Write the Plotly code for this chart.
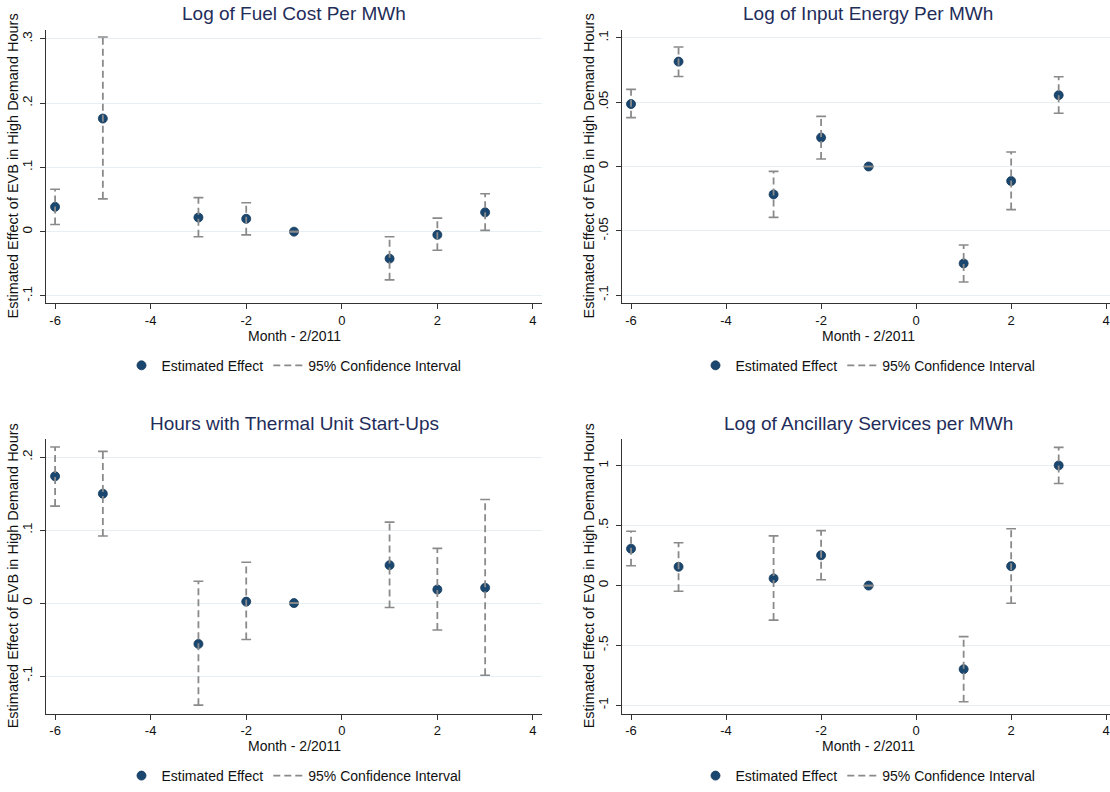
import plotly.graph_objects as go

months = [-6, -5, -3, -2, -1, 1, 2, 3]

# Panel 1: Log of Fuel Cost Per MWh
fuel_est = [0.0386, 0.176, 0.022, 0.020, 0.0, -0.042, -0.005, 0.030]
fuel_lo = [0.011, 0.051, -0.008, -0.005, 0.0, -0.075, -0.029, 0.002]
fuel_hi = [0.066, 0.303, 0.053, 0.045, 0.0, -0.008, 0.021, 0.059]

# Panel 2: Log of Input Energy Per MWh
energy_est = [0.0486, 0.0816, -0.0217, 0.0225, 0.0, -0.0754, -0.0113, 0.0555]
energy_lo = [0.038, 0.070, -0.0396, 0.0059, 0.0, -0.0898, -0.0335, 0.0414]
energy_hi = [0.060, 0.093, -0.0038, 0.039, 0.0, -0.061, 0.0113, 0.0698]

# Panel 3: Hours with Thermal Unit Start-Ups
starts_est = [0.174, 0.150, -0.056, 0.002, 0.0, 0.052, 0.0186, 0.021]
starts_lo = [0.133, 0.092, -0.140, -0.050, 0.0, -0.006, -0.037, -0.099]
starts_hi = [0.214, 0.208, 0.030, 0.056, 0.0, 0.111, 0.075, 0.142]

# Panel 4: Log of Ancillary Services per MWh
anc_est = [0.308, 0.157, 0.060, 0.253, 0.0, -0.698, 0.162, 1.003]
anc_lo = [0.165, -0.047, -0.288, 0.049, 0.0, -0.970, -0.148, 0.852]
anc_hi = [0.453, 0.357, 0.415, 0.459, 0.0, -0.426, 0.475, 1.154]

titles = ["Log of Fuel Cost Per MWh", "Log of Input Energy Per MWh",
          "Hours with Thermal Unit Start-Ups", "Log of Ancillary Services per MWh"]

x_ticks = [-6, -4, -2, 0, 2, 4]
x_ticktext = ["-6", "-4", "-2", "0", "2", "4"]

y_ticks_1 = [-0.1, 0, 0.1, 0.2, 0.3]
y_text_1 = ["-.1", "0", ".1", ".2", ".3"]
y_ticks_2 = [-0.1, -0.05, 0, 0.05, 0.1]
y_text_2 = ["-.1", "-.05", "0", ".05", ".1"]
y_ticks_3 = [-0.1, 0, 0.1, 0.2]
y_text_3 = ["-.1", "0", ".1", ".2"]
y_ticks_4 = [-1, -0.5, 0, 0.5, 1]
y_text_4 = ["-1", "-.5", "0", ".5", "1"]

x_title = "Month - 2/2011"
y_title = "Estimated Effect of EVB in High Demand Hours"
legend_est = "Estimated Effect"
legend_ci = "95% Confidence Interval"

W, H = 1110, 792
FONT = "Liberation Sans, Arial, Helvetica, sans-serif"
NAVY = "#1a476f"
GRAY = "#8a8a8a"
TITLE_C = "#1f2d5a"
AXIS_C = "#333333"
GRID_C = "#e6eff1"

panels = [
    dict(est=fuel_est, lo=fuel_lo, hi=fuel_hi, yt=y_ticks_1, ytt=y_text_1,
         yr=[-0.1115, 0.3142], xd=[46, 542], yd=[30, 306], xr=[-6.19, 4.19]),
    dict(est=energy_est, lo=energy_lo, hi=energy_hi, yt=y_ticks_2, ytt=y_text_2,
         yr=[-0.1064, 0.1064], xd=[622, 1110], yd=[30, 306], xr=[-6.19, 4.08]),
    dict(est=starts_est, lo=starts_lo, hi=starts_hi, yt=y_ticks_3, ytt=y_text_3,
         yr=[-0.1516, 0.2249], xd=[46, 542], yd=[443, 720], xr=[-6.19, 4.19]),
    dict(est=anc_est, lo=anc_lo, hi=anc_hi, yt=y_ticks_4, ytt=y_text_4,
         yr=[-1.069, 1.223], xd=[622, 1110], yd=[443, 720], xr=[-6.19, 4.08]),
]

fig = go.Figure()
annotations = []
layout = {}

for i, p in enumerate(panels):
    k = i + 1
    xa = "x" if k == 1 else f"x{k}"
    ya = "y" if k == 1 else f"y{k}"
    lg = "legend" if k == 1 else f"legend{k}"

    fig.add_trace(go.Scatter(
        x=months, y=p["est"], mode="markers", name=legend_est,
        marker=dict(color=NAVY, size=9, line=dict(color="#14385a", width=0.8)),
        xaxis=xa, yaxis=ya, legend=lg, showlegend=True))

    cx, cy = [], []
    for m, lo, hi in zip(months, p["lo"], p["hi"]):
        cx += [m, m, None]
        cy += [lo, hi, None]
    fig.add_trace(go.Scatter(
        x=cx, y=cy, mode="lines", name=legend_ci,
        line=dict(color=GRAY, width=1.8, dash="7px,4px"),
        xaxis=xa, yaxis=ya, legend=lg, showlegend=True))
    capx, capy = [], []
    for m, lo, hi in zip(months, p["lo"], p["hi"]):
        capx += [m, m]
        capy += [lo, hi]
    fig.add_trace(go.Scatter(
        x=capx, y=capy, mode="markers",
        marker=dict(symbol="line-ew", size=7, line=dict(color=GRAY, width=1.6)),
        xaxis=xa, yaxis=ya, showlegend=False, hoverinfo="skip"))

    xkey = "xaxis" if k == 1 else f"xaxis{k}"
    ykey = "yaxis" if k == 1 else f"yaxis{k}"
    layout[xkey] = dict(
        domain=[p["xd"][0] / W, p["xd"][1] / W], range=p["xr"],
        tickvals=x_ticks, ticktext=x_ticktext, anchor=ya,
        showline=True, linecolor=AXIS_C, linewidth=1.3,
        ticks="outside", ticklen=5, tickcolor=AXIS_C, tickwidth=1.2,
        showgrid=False, zeroline=False,
        tickfont=dict(family=FONT, size=13, color="#111111"))
    layout[ykey] = dict(
        domain=[1 - p["yd"][1] / H, 1 - p["yd"][0] / H], range=p["yr"],
        tickvals=p["yt"], ticktext=p["ytt"], anchor=xa, tickangle=-90,
        showline=True, linecolor=AXIS_C, linewidth=1.3,
        ticks="outside", ticklen=5, tickcolor=AXIS_C, tickwidth=1.2,
        showgrid=True, gridcolor=GRID_C, gridwidth=1, zeroline=False,
        ticklabelstandoff=2,
        tickfont=dict(family=FONT, size=13.5, color="#111111"))

    cx_px = (p["xd"][0] + p["xd"][1]) / 2 if k in (1, 3) else 868
    top = p["yd"][0]
    bot = p["yd"][1]
    annotations.append(dict(
        text=titles[i], x=cx_px / W, y=1 - (top - 16) / H, xref="paper", yref="paper",
        showarrow=False, xanchor="center", yanchor="middle",
        font=dict(family=FONT, size=19, color=TITLE_C)))
    annotations.append(dict(
        text=x_title, x=cx_px / W, y=1 - (bot + 33) / H, xref="paper", yref="paper",
        showarrow=False, xanchor="center", yanchor="middle",
        font=dict(family=FONT, size=14, color="#111111")))
    annotations.append(dict(
        text=y_title, x=(p["xd"][0] - 33) / W, y=1 - ((top + bot) / 2) / H,
        xref="paper", yref="paper", showarrow=False, textangle=-90,
        xanchor="center", yanchor="middle",
        font=dict(family=FONT, size=14.5, color="#111111")))
    layout[lg] = dict(
        orientation="h", x=cx_px / W, y=1 - (bot + 63) / H,
        xanchor="center", yanchor="middle", bgcolor="rgba(0,0,0,0)",
        font=dict(family=FONT, size=14, color="#111111"), itemwidth=30,
        traceorder="normal")

fig.update_layout(
    width=W, height=H, margin=dict(l=0, r=0, t=0, b=0),
    paper_bgcolor="white", plot_bgcolor="white",
    annotations=annotations, **layout)

fig.write_html("out.html")
